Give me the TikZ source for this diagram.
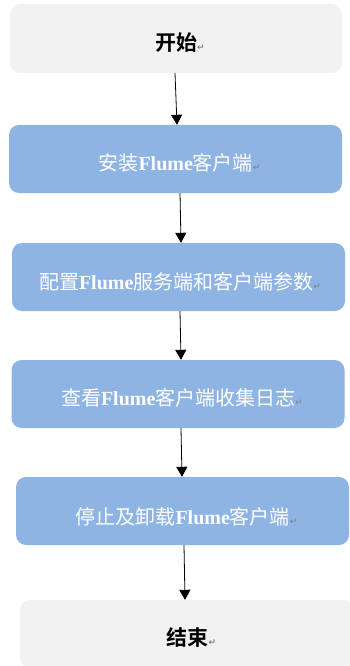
\documentclass[tikz,border=0pt]{standalone}
\usepackage{fontspec}
\newfontfamily\cjk{Noto Sans CJK SC}[BoldFont={Noto Sans CJK SC Bold}]
\newfontfamily\flumefont{Liberation Serif}
\newfontfamily\symfont{DejaVu Sans}
\usetikzlibrary{arrows.meta,calc}
\definecolor{boxblue}{HTML}{8EB4E3}
\definecolor{boxgray}{HTML}{F2F2F2}
\newcommand\retmark{{\symfont\fontsize{9}{9}\selectfont\textcolor{gray}{↵}}}
\newcommand\flm{{\flumefont\bfseries Flume}}
\begin{document}
\begin{tikzpicture}[x=1pt,y=-1pt,
  termbox/.style={rectangle, rounded corners=10pt, fill=boxgray, minimum width=332pt, minimum height=69pt, inner sep=0pt},
  stepbox/.style={rectangle, rounded corners=10pt, fill=boxblue, minimum width=333pt, minimum height=68pt, inner sep=0pt},
  termtext/.style={font=\cjk\bfseries\fontsize{21}{24}\selectfont, text=black, inner sep=0pt},
  steptext/.style={font=\cjk\fontsize{20}{24}\selectfont, text=white, inner sep=0pt},
  arr/.style={-{Triangle[length=10pt,width=11pt]}, line width=0.8pt, black}]
\useasboundingbox (0,0) rectangle (350,666);
\clip (0,0) rectangle (350,666);
\node[termbox] (b1) at (176,38.5) {};
\node[stepbox] (b2) at (175.5,159) {};
\node[stepbox] (b3) at (178.5,277) {};
\node[stepbox] (b4) at (178,394) {};
\node[stepbox] (b5) at (182.5,511) {};
\node[termbox, minimum height=68pt, minimum width=333pt] (b6) at (186.5,634) {};
\node[termtext] (t1) at ($(b1.center)+(4,4.5)$) {开始\retmark};
\node[steptext] (t2) at ($(b2.center)+(4,4)$) {安装\flm 客户端\retmark};
\node[steptext] (t3) at ($(b3.center)+(1.5,5)$) {配置\flm 服务端和客户端参数\retmark};
\node[steptext] (t4) at ($(b4.center)+(4,4)$) {查看\flm 客户端收集日志\retmark};
\node[steptext] (t5) at ($(b5.center)+(4,6)$) {停止及卸载\flm 客户端\retmark};
\node[termtext] (t6) at ($(b6.center)+(5,4)$) {结束\retmark};
\draw[arr] ($(b1.south)+(-1,0)$) -- ($(b2.north)+(1.5,0)$);
\draw[arr] ($(b2.south)+(4.5,0)$) -- ($(b3.north)+(2.5,0)$);
\draw[arr] ($(b3.south)+(1.5,0)$) -- ($(b4.north)+(3,0)$);
\draw[arr] ($(b4.south)+(3,0)$) -- ($(b5.north)+(-0.5,0)$);
\draw[arr] ($(b5.south)+(1.5,0)$) -- ($(b6.north)+(-1.5,0)$);
\end{tikzpicture}
\end{document}
